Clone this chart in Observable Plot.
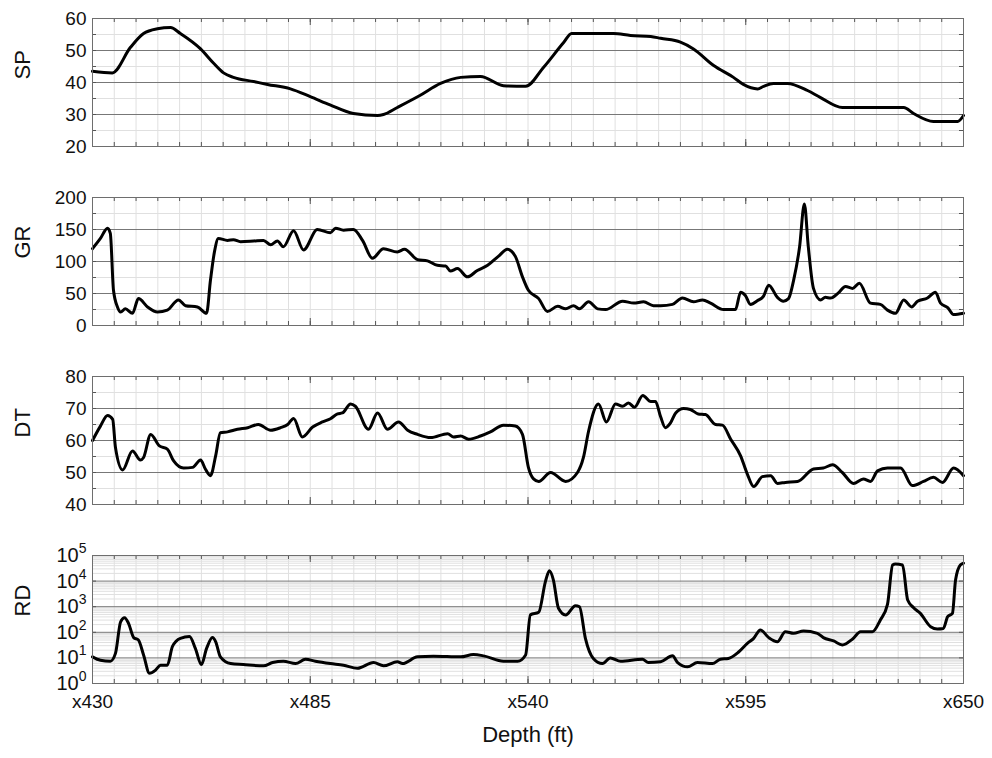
<!DOCTYPE html>
<html>
<head>
<meta charset="utf-8">
<script src="https://cdn.jsdelivr.net/npm/d3@7"></script>
<script src="https://cdn.jsdelivr.net/npm/@observablehq/plot@0.6"></script>
<style>
  html, body { margin: 0; padding: 0; background: white; }
  #chart svg { display: block; }
</style>
</head>
<body>
<div id="chart"></div>
<script>
// ---------- Data ----------
const xTickLabels = [430, 485, 540, 595, 650];

const spDepth = [430,435,439.6,442.9,446.4,449.7,452.2,457.3,460.6,463.1,465.6,470.7,474.2,480,485,490,495.9,502,503.5,507,512.8,517.9,523,528,533.8,539.4,543.9,549,551,561.6,565.9,571,573.5,578.5,581.8,586.9,591.9,594.4,598,599.5,602,605.5,610.6,613.9,619.4,634.9,637.4,642.4,648.5,650];
const spValue = [43.5,43,51,55.3,56.8,57.2,55.3,50.5,46,43,41.6,40.3,39.4,38,35.6,33,30.3,29.7,30,32.2,36,39.7,41.6,41.9,39,38.8,44.7,52.5,55.3,55.3,54.7,54.4,53.8,52.6,50.5,45.3,41.6,39.4,38,38.8,39.7,39.7,37.5,35.3,32.2,32.2,30.3,27.8,27.8,29.7];

const grDepth = [430,432,433.8,434.5,435.3,436.3,437.1,438.3,440.1,441.6,443.9,446.4,448.9,451.7,453.5,456.5,458.8,459.8,460.8,461.8,464.1,465.6,467.4,470.7,473.2,475,476.7,478.2,480.8,483.3,486.8,490.1,491.4,493.4,495.9,498.2,500.7,503.5,507,508.8,512.1,514.6,517.1,519.2,520.4,522.2,524.7,527.2,529.8,532.5,534.8,536.8,538.6,540.1,542.7,544.9,547.5,549.5,551.5,553,555.3,557.6,559.6,563.9,566.7,569.2,571.7,573.5,576.5,579,581.8,584.1,586.1,589.4,592.4,593.7,594.9,596.2,598,599.5,600.8,603,604.5,605.8,607.1,608.6,609.8,610.8,612.1,613.9,615.1,616.4,618.4,620.2,622,623.7,626.5,629,630.8,632.8,634.9,636.9,638.4,640.9,642.9,644.2,646,647.5,650];
const grValue = [120,136,152,144,55,29,21,26,19,42,29,21,24,40,31,29,19,71,115,136,133,134,131,132,133,126,132,123,148,118,150,145,152,149,150,133,105,120,115,119,103,101,94,93,85,89,76,86,94,108,119,108,76,55,42,22,30,26,31,26,37,26,25,38,35,37,31,31,33,43,37,40,35,25,25,52,47,33,39,46,63,44,38,42,71,123,190,123,58,40,44,43,51,61,58,66,35,33,24,19,40,29,38,43,52,35,28,17,19];

const dtDepth = [430,432,433.8,435.1,435.8,437.6,440.1,442.1,442.9,444.7,446.9,448.9,450.5,453,455.3,457.3,458.5,459.8,461.1,462.3,464.1,466.6,469.2,471.9,475,477.5,479.3,480.8,483,485.6,488.1,490.1,491.9,493.1,495.2,496.4,499.7,502,504.5,507.3,509.6,512.1,515.4,519.7,521.2,523,525,528,530.5,533.8,536.8,538.6,540.1,541.4,542.7,545.7,549.5,552.5,554,555.3,557.8,559.8,562.1,563.9,565.4,566.9,569,571,572.2,573.5,574.7,576,577.3,579.3,581,583,584.8,587.4,589.1,591.2,593.7,595.4,597,599.2,601.3,603,605,608.1,612.1,614.6,616.9,619.4,622.2,624.7,626.5,628.3,630.8,634.1,637.1,639.9,642.4,644.7,647.5,650];
const dtValue = [60,64.5,67.8,66.6,57.8,50.8,56.7,53.9,54.7,61.9,58.3,57.3,53.6,51.4,51.6,53.9,51.1,49,55.2,62.4,62.7,63.5,64,65,63.2,64,65,66.9,61.1,64.2,65.8,66.8,68.3,68.6,71.4,70.7,63.5,68.6,63.5,65.8,63.2,61.9,60.9,62.1,61.1,61.4,60.4,61.4,62.7,64.8,64.5,61.9,51.6,48,47.2,50,47.2,50,54.7,62.9,71.4,65.8,71.4,70.7,71.7,70.4,74.1,72.2,72.2,67.4,64,65.5,68.6,70,69.7,68.3,68.1,65,64.8,60.4,55.2,49.5,45.6,48.7,49,46.6,46.9,47.2,51.1,51.4,52.4,50,46.6,48,47.2,50.5,51.4,51.4,45.9,47.2,48.5,46.9,51.4,49];

const rdDepth = [430,432,434.5,435.8,437.1,438.1,439.1,440.4,441.6,442.9,444.4,445.9,447.2,448.9,450.2,452.2,454.5,456,457.5,458.8,460.3,461.1,462.3,464.9,468.1,473.2,475.5,478.2,481.3,483.8,486.3,490.1,493.4,496.9,501,503.5,507,508.3,512.1,516.1,523,526.2,528.8,533.8,537.4,539.4,540.6,542.7,544.4,545.4,546.4,547.7,549.5,552,553,554.5,556.5,558.8,560.8,563.4,568.9,570.4,573.5,576.5,577.8,580.3,582.8,586.6,588.6,590.6,593.2,595.4,597,598.7,600.8,603,605,607.1,609.6,613.1,614.6,617.2,619.4,622,624,627,629,630.8,632.1,632.8,634.6,635.9,637.4,639.1,641.7,643.4,644.9,646,647.2,648,649.2,650];
const rdValue = [11,8.1,7.4,15,257,372,224,62,50,13,2.5,3.3,5.2,5.2,28,58,68,23,5.5,23,62,43,11,6,5.5,4.9,6.6,7.4,6,8.9,7.4,6,5.2,3.9,6.6,4.9,7.1,6,11,11.7,11,13.5,12,7.4,7.4,13,479,603,9550,25100,11200,871,479,1100,1000,58,9.5,6,10,7.4,8.9,6.6,7.1,12,6.6,4.5,6.6,6,8.9,9.5,17,37,58,123,62,43,105,91,112,91,62,46,32,55,105,105,302,1230,42700,46800,42700,1820,912,550,166,135,141,407,550,11200,42700,50100];

// axis tick values
const spMajor = [20,30,40,50,60],  spMinor = [25,35,45,55];
const grMajor = [0,50,100,150,200], grMinor = [25,75,125,175];
const dtMajor = [40,50,60,70,80],  dtMinor = [45,55,65,75];
const rdMajor = [1,10,100,1000,10000,100000];
const rdMinor = [];
for (let e = 0; e < 5; e++) for (let k = 2; k <= 9; k++) rdMinor.push(k * Math.pow(10, e));

// ---------- Drawing ----------
const xMinor = d3.range(41).map(i => 430 + 5.5 * i);
const W = 992, ML = 92, MR = 29, MT = 18, PH = 128;
const PW = W - ML - MR;
const FONT = "'Liberation Sans', Arial, Helvetica, sans-serif";

function panel({depth, value, label, domain, major, minor, log = false, last = false}) {
  const data = depth.map((d, i) => ({d, v: value[i]}));
  const MB = last ? 76 : 33;
  const H = MT + PH + MB;
  const marks = [
    Plot.gridY(minor, {stroke: "#e0e0e0", strokeOpacity: 1}),
    Plot.gridX(xMinor, {stroke: "#e0e0e0", strokeOpacity: 1}),
    Plot.gridY(major, {stroke: "#777", strokeOpacity: 1}),
    // inward tick marks (top / bottom)
    Plot.tickX(xMinor, {x: d => d, insetBottom: PH - 4, stroke: "#555"}),
    Plot.tickX(xMinor, {x: d => d, insetTop: PH - 4, stroke: "#555"}),
    Plot.tickX(xTickLabels, {x: d => d, insetBottom: PH - 7, stroke: "#555"}),
    Plot.tickX(xTickLabels, {x: d => d, insetTop: PH - 7, stroke: "#555"}),
    // inward tick marks (left / right)
    Plot.tickY(major.concat(log ? [] : minor), {y: d => d, insetRight: PW - 4, stroke: "#555"}),
    Plot.tickY(major.concat(log ? [] : minor), {y: d => d, insetLeft: PW - 4, stroke: "#555"}),
    Plot.axisY(major, {
      tickSize: 0, tickPadding: 6, label: null,
      fontSize: log ? 20 : 19,
      tickFormat: log ? (d => "10^" + Math.round(Math.log10(d))) : (d => String(d))
    }),
    Plot.line(data, {x: "d", y: "v", stroke: "black", strokeWidth: 3, curve: "monotone-x", strokeLinejoin: "round"}),
    Plot.frame({stroke: "#6e6e6e"}),
    Plot.text([label], {frameAnchor: "left", dx: -70, dy: -3, rotate: -90, fontSize: 22, fill: "#111"})
  ];
  if (last) {
    marks.push(Plot.axisX(xTickLabels, {tickSize: 0, tickPadding: 11, label: null, fontSize: 19, tickFormat: d => "x" + d}));
    marks.push(Plot.text(["Depth (ft)"], {frameAnchor: "bottom", dy: 58, fontSize: 22, fill: "#111"}));
  }
  const svg = Plot.plot({
    width: W, height: H,
    marginLeft: ML, marginRight: MR, marginTop: MT, marginBottom: MB,
    style: {fontFamily: FONT, fontSize: "19px", background: "white", color: "#111"},
    x: {domain: [430, 650], axis: null},
    y: {domain, type: log ? "log" : "linear", axis: null},
    marks
  });
  if (log) {
    svg.querySelectorAll('g[aria-label="y-axis tick label"] text').forEach(t => {
      const s = t.textContent;
      if (!s.includes("^")) return;
      const [base, exp] = s.split("^");
      t.textContent = "";
      const ns = "http://www.w3.org/2000/svg";
      const b = document.createElementNS(ns, "tspan");
      b.textContent = base;
      const e = document.createElementNS(ns, "tspan");
      e.setAttribute("dy", "-9");
      e.setAttribute("font-size", "14");
      e.textContent = exp;
      t.appendChild(b);
      t.appendChild(e);
    });
  }
  return svg;
}

const chart = document.getElementById("chart");
chart.appendChild(panel({depth: spDepth, value: spValue, label: "SP", domain: [20, 60], major: spMajor, minor: spMinor}));
chart.appendChild(panel({depth: grDepth, value: grValue, label: "GR", domain: [0, 200], major: grMajor, minor: grMinor}));
chart.appendChild(panel({depth: dtDepth, value: dtValue, label: "DT", domain: [40, 80], major: dtMajor, minor: dtMinor}));
chart.appendChild(panel({depth: rdDepth, value: rdValue, label: "RD", domain: [1, 100000], major: rdMajor, minor: rdMinor, log: true, last: true}));
</script>
</body>
</html>
